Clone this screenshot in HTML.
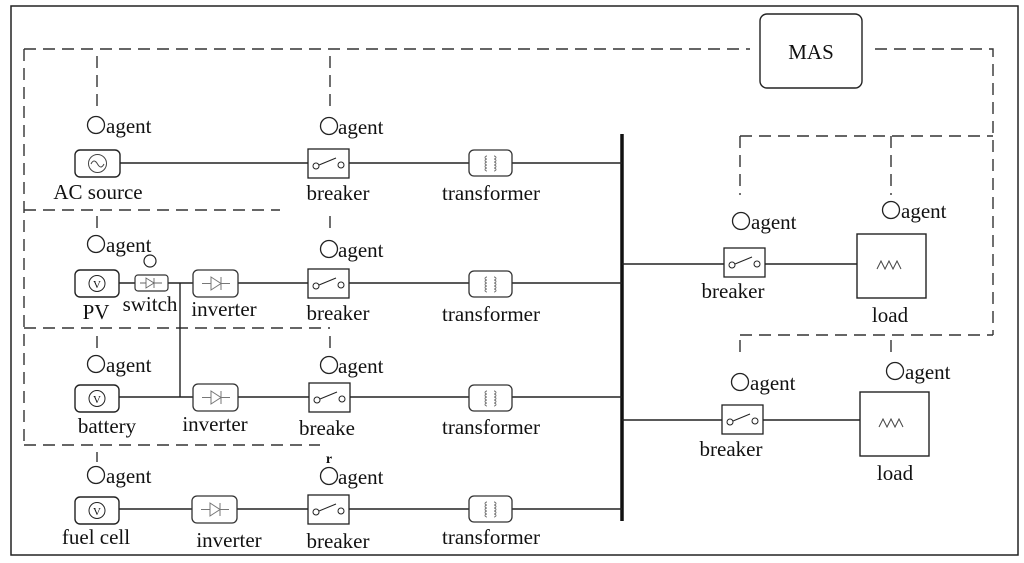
<!DOCTYPE html>
<html><head><meta charset="utf-8"><style>
html,body{margin:0;padding:0;background:#fff;}
svg{display:block;}
text{font-family:"Liberation Serif",serif;font-size:21px;fill:#111;}
</style></head><body>
<svg width="1024" height="563" viewBox="0 0 1024 563" xmlns="http://www.w3.org/2000/svg">
<defs>
<g id="brk"><rect x="0" y="0" width="41" height="29" fill="#fff" stroke="#222" stroke-width="1.3"/><circle cx="8" cy="17" r="3" fill="#fff" stroke="#222"/><circle cx="33" cy="16" r="3" fill="#fff" stroke="#222"/><line x1="11" y1="16" x2="28" y2="9" stroke="#222"/></g>
<g id="trf"><rect x="0" y="0" width="43" height="26" rx="5" fill="#fff" stroke="#333" stroke-width="1.3"/><path d="M18 6 a2 1.5 0 0 0 0 3 a2 1.5 0 0 0 0 3 a2 1.5 0 0 0 0 3 a2 1.5 0 0 0 0 3 a2 1.5 0 0 0 0 3 M25 6 a2 1.5 0 0 1 0 3 a2 1.5 0 0 1 0 3 a2 1.5 0 0 1 0 3 a2 1.5 0 0 1 0 3 a2 1.5 0 0 1 0 3" fill="none" stroke="#666" stroke-width="0.9"/></g>
<g id="inv"><rect x="0" y="0" width="45" height="27" rx="5" fill="#fff" stroke="#333" stroke-width="1.3"/><path d="M9 13.5 h9 M18 7 v13 l10 -6.5 z M28 7 v13 M28 13.5 h9" fill="none" stroke="#777" stroke-width="1"/></g>
<g id="src"><rect x="0" y="0" width="44" height="27" rx="5" fill="#fff" stroke="#222" stroke-width="1.4"/><circle cx="22" cy="13.5" r="8" fill="none" stroke="#222"/><text x="22" y="18" text-anchor="middle" style="font-size:11px">V</text></g>
<g id="ag"><circle cx="0" cy="0" r="8.5" fill="none" stroke="#222" stroke-width="1.3"/></g>
</defs>
<rect x="11" y="6" width="1007" height="549" fill="none" stroke="#222" stroke-width="1.5"/>
<g fill="none" stroke="#333" stroke-width="1.4" stroke-dasharray="12,7">
<path d="M24 49 H750 M875 49 H993 V335 M740 136 H993 M740 136 V195 M891 136 V195 M740 335 H993 M740 340 V355 M891 340 V355"/>
<path d="M24 49 V445 M97 56 V112 M330 56 V112 M24 210 H280 M24 328 H330 M24 445 H320"/>
<path d="M97 216 V228 M330 216 V230 M97 336 V348 M330 336 V348 M97 452 V462"/>
</g>
<rect x="760" y="14" width="102" height="74" rx="7" fill="#fff" stroke="#222" stroke-width="1.4"/>
<text x="811" y="59" text-anchor="middle">MAS</text>
<line x1="622" y1="134" x2="622" y2="521" stroke="#111" stroke-width="3.5"/>
<g stroke="#222" stroke-width="1.4" fill="none">
<path d="M120 163 H622 M118 283 H135 M168 283 H180 V397 M180 283 H622 M118 397 H622 M118 509 H622"/>
<path d="M622 264 H857 M622 420 H860"/>
</g>
<!-- row1 -->
<rect x="75" y="150" width="45" height="27" rx="5" fill="#fff" stroke="#222" stroke-width="1.4"/><circle cx="97.5" cy="163.5" r="9" fill="none" stroke="#444"/><path d="M91 164 q3 -6 6.5 0 q3.5 6 6.5 0" fill="none" stroke="#444"/>
<use href="#brk" x="308" y="149"/><use href="#trf" x="469" y="150"/>
<use href="#ag" x="96" y="125"/><text x="106" y="133">agent</text>
<use href="#ag" x="329" y="126"/><text x="338" y="134">agent</text>
<text x="98" y="199" text-anchor="middle">AC source</text>
<text x="338" y="200" text-anchor="middle">breaker</text>
<text x="491" y="200" text-anchor="middle">transformer</text>
<!-- row2 -->
<use href="#src" x="75" y="270"/>
<rect x="135" y="275" width="33" height="16" rx="3" fill="#fff" stroke="#333" stroke-width="1.2"/><path d="M140 283 h6 M146 278 v10 l8 -5 z M154 278 v10 M154 283 h8" fill="none" stroke="#666" stroke-width="0.9"/>
<circle cx="150" cy="261" r="6" fill="none" stroke="#222" stroke-width="1.2"/>
<use href="#inv" x="193" y="270"/><use href="#brk" x="308" y="269"/><use href="#trf" x="469" y="271"/>
<use href="#ag" x="96" y="244"/><text x="106" y="252">agent</text>
<use href="#ag" x="329" y="249"/><text x="338" y="257">agent</text>
<text x="96" y="319" text-anchor="middle">PV</text>
<text x="150" y="311" text-anchor="middle">switch</text>
<text x="224" y="316" text-anchor="middle">inverter</text>
<text x="338" y="320" text-anchor="middle">breaker</text>
<text x="491" y="321" text-anchor="middle">transformer</text>
<!-- row3 -->
<use href="#src" x="75" y="385"/><use href="#inv" x="193" y="384"/><use href="#brk" x="309" y="383"/><use href="#trf" x="469" y="385"/>
<use href="#ag" x="96" y="364"/><text x="106" y="372">agent</text>
<use href="#ag" x="329" y="365"/><text x="338" y="373">agent</text>
<text x="107" y="433" text-anchor="middle">battery</text>
<text x="215" y="431" text-anchor="middle">inverter</text>
<text x="327" y="435" text-anchor="middle">breake</text>
<text x="491" y="434" text-anchor="middle">transformer</text>
<text x="329" y="463" text-anchor="middle" style="font-size:14px;font-weight:bold">r</text>
<!-- row4 -->
<use href="#src" x="75" y="497"/><use href="#inv" x="192" y="496"/><use href="#brk" x="308" y="495"/><use href="#trf" x="469" y="496"/>
<use href="#ag" x="96" y="475"/><text x="106" y="483">agent</text>
<use href="#ag" x="329" y="476"/><text x="338" y="484">agent</text>
<text x="96" y="544" text-anchor="middle">fuel cell</text>
<text x="229" y="547" text-anchor="middle">inverter</text>
<text x="338" y="548" text-anchor="middle">breaker</text>
<text x="491" y="544" text-anchor="middle">transformer</text>
<!-- right -->
<use href="#brk" x="724" y="248"/>
<rect x="857" y="234" width="69" height="64" fill="#fff" stroke="#222" stroke-width="1.4"/><path d="M877 269 l4 -8 l4 8 l4 -8 l4 8 l4 -8 l4 8" fill="none" stroke="#444"/>
<use href="#ag" x="741" y="221"/><text x="751" y="229">agent</text>
<use href="#ag" x="891" y="210"/><text x="901" y="218">agent</text>
<text x="733" y="298" text-anchor="middle">breaker</text>
<text x="890" y="322" text-anchor="middle">load</text>
<use href="#brk" x="722" y="405"/>
<rect x="860" y="392" width="69" height="64" fill="#fff" stroke="#222" stroke-width="1.4"/><path d="M879 427 l4 -8 l4 8 l4 -8 l4 8 l4 -8 l4 8" fill="none" stroke="#444"/>
<use href="#ag" x="740" y="382"/><text x="750" y="390">agent</text>
<use href="#ag" x="895" y="371"/><text x="905" y="379">agent</text>
<text x="731" y="456" text-anchor="middle">breaker</text>
<text x="895" y="480" text-anchor="middle">load</text>
</svg>
</body></html>
